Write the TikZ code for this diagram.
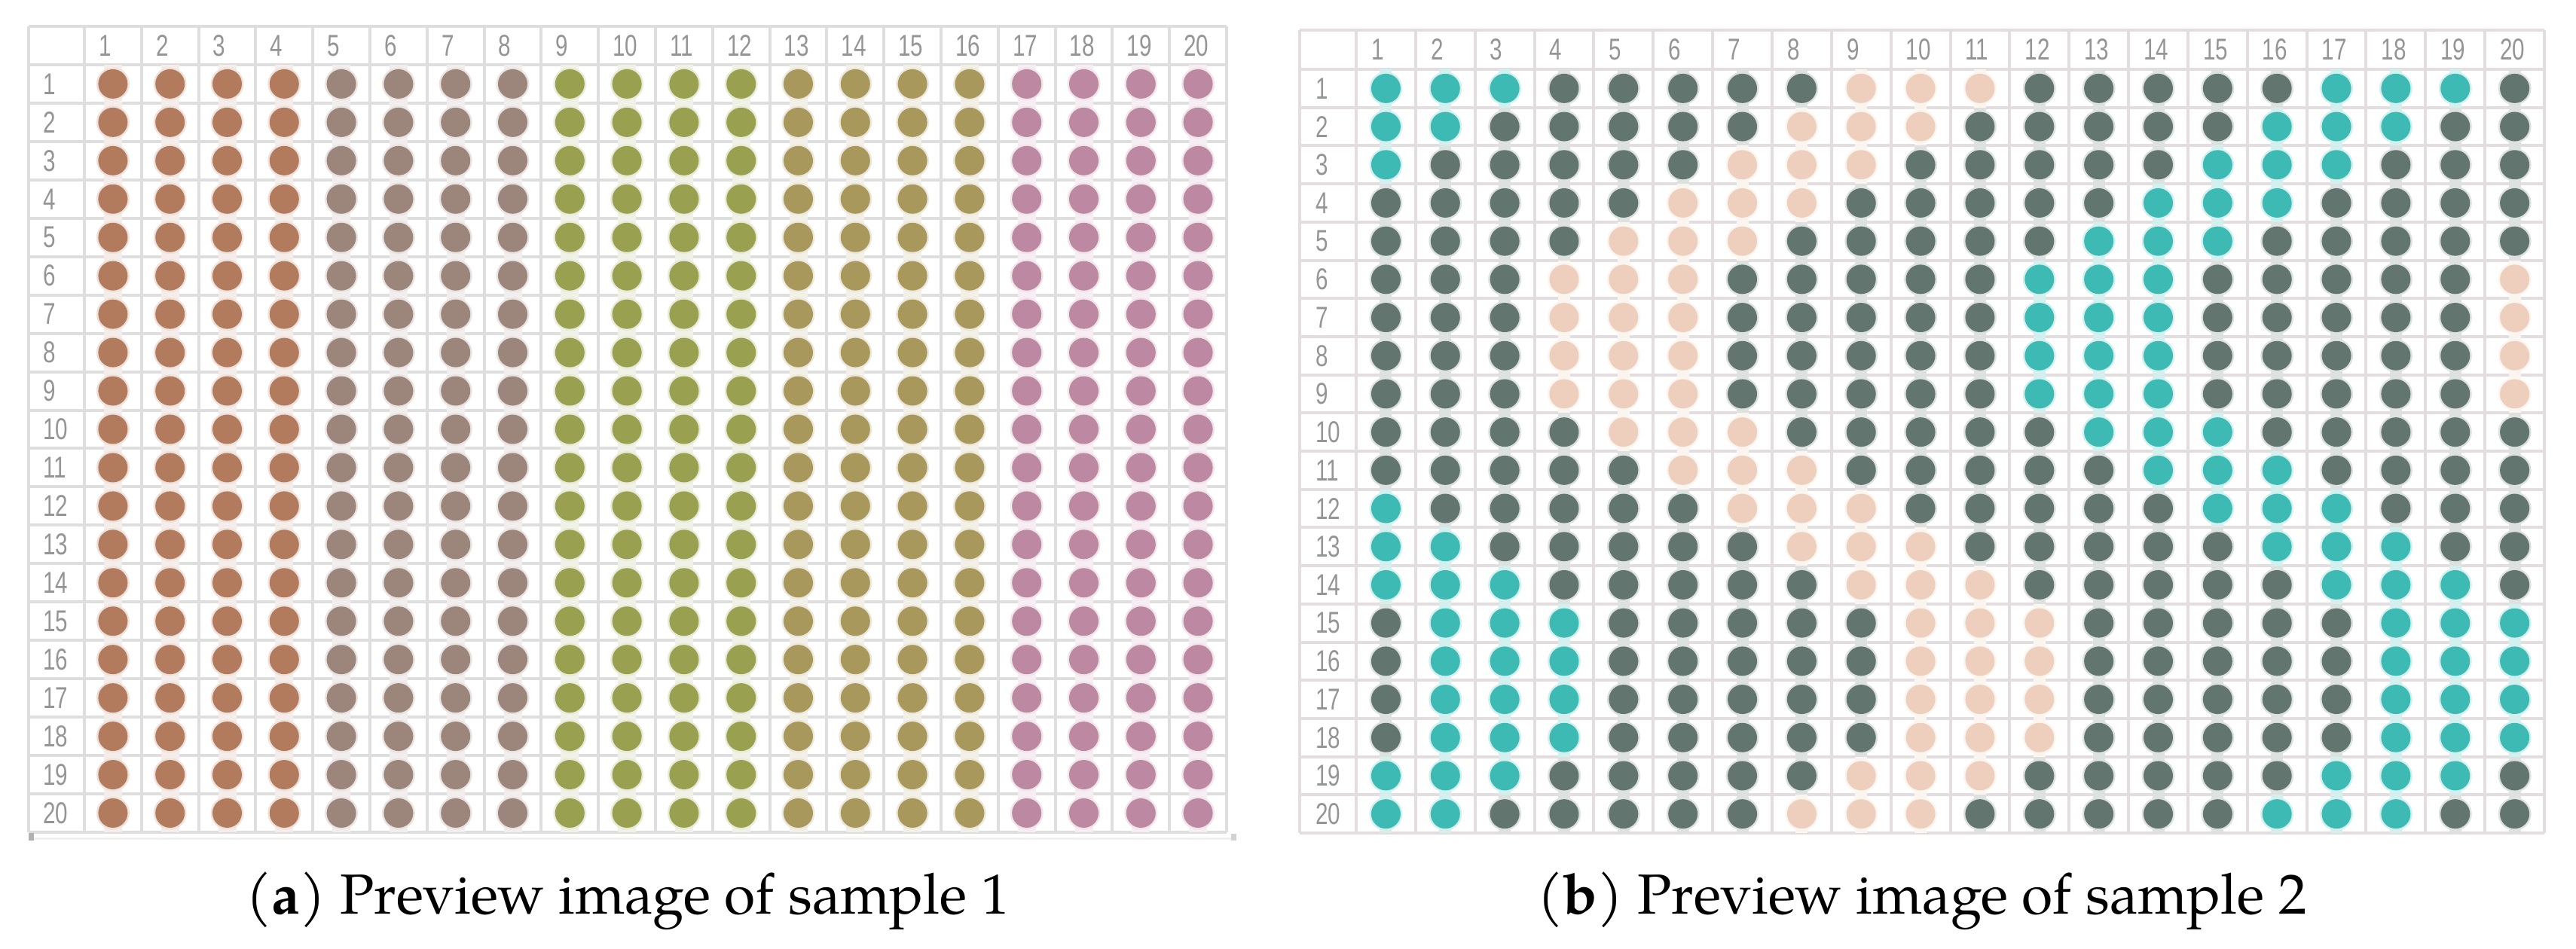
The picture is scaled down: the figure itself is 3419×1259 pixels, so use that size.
\documentclass[tikz,border=0pt]{standalone}
\usepackage{graphicx}
\usepackage{fontspec}
\setmainfont{TeX Gyre Pagella}
\newfontfamily\gridfont{Liberation Sans}
\definecolor{gaA}{HTML}{B37B5E}
\definecolor{gaB}{HTML}{9C857B}
\definecolor{gaC}{HTML}{99A050}
\definecolor{gaD}{HTML}{A8985C}
\definecolor{gaE}{HTML}{BD88A1}
\definecolor{gbT}{HTML}{3DBAB4}
\definecolor{gbD}{HTML}{62756F}
\definecolor{gbP}{HTML}{EECFBD}
\definecolor{lineA}{HTML}{DEDEDE}
\definecolor{lineB}{HTML}{E3DDE0}
\definecolor{hdrgray}{HTML}{959595}
\tikzset{
  hdr/.style={inner sep=0pt, anchor=west, text=hdrgray, font=\gridfont\fontsize{40}{40}\selectfont},
  captext/.style={inner sep=0pt, anchor=base, font=\fontsize{75}{90}\selectfont},
  gridA/.style={draw=lineA, line width=4pt},
  gridB/.style={draw=lineB, line width=4pt},
}
\begin{document}
\begin{tikzpicture}[x=1pt,y=-1pt]
\fill[white] (0,0) rectangle (3419,1259);
\useasboundingbox (0,0) rectangle (3419,1259);

% ---------- grid (a) ----------
\foreach \k in {0,...,21} \draw[gridA] (38,{35+\k*50.95}) -- (1628,{35+\k*50.95});
\draw[gridA] (38,35) -- (38,1105);
\foreach \k in {0,...,20} \draw[gridA] ({112+\k*75.8},35) -- ({112+\k*75.8},1105);
\draw[draw=lineA!45, line width=3pt] (42,1113) -- (1637,1113);
\fill[gray!60] (38,1106) rectangle (45,1116);
\fill[gray!35] (1634,1107) rectangle (1641,1116);

\foreach \c in {1,...,20}{
  \pgfmathtruncatemacro\g{int((\c-1)/4)}
  \ifcase\g \def\dc{gaA}\or\def\dc{gaB}\or\def\dc{gaC}\or\def\dc{gaD}\or\def\dc{gaE}\fi
  \foreach \r in {1,...,20}{
    \pgfmathsetmacro\cx{112+(\c-0.5)*75.8}
    \pgfmathsetmacro\cy{35+(\r+0.5)*50.95}
    \fill[\dc!14] (\cx-12,\cy-25.5) rectangle (\cx+12,\cy+25.5);
    \fill[\dc!22] (\cx,\cy) ellipse [x radius=22, y radius=22];
    \fill[\dc] (\cx,\cy) ellipse [x radius=19.5, y radius=19.5];
  }
}
\foreach \c in {1,...,20}
  \node[hdr] (a-h\c) at ({112+(\c-1)*75.8+19},60.5) {\scalebox{0.74}[1]{\c}};
\foreach \r in {1,...,20}
  \node[hdr] (a-r\r) at (57,{35+(\r+0.5)*50.95}) {\scalebox{0.74}[1]{\r}};

% ---------- grid (b) ----------
\foreach \k in {0,...,20} \draw[gridB] (1725,{92+\k*50.7}) -- (3377,{92+\k*50.7});
\draw[gridB] (1725,40) -- (3377,40);
\draw[gridB] (1725,40) -- (1725,1106);
\foreach \k in {0,...,20} \draw[gridB] ({1800+\k*78.85},40) -- ({1800+\k*78.85},1106);

\foreach \r/\s in {1/0,2/1,3/2,4/3,5/4,6/5,7/5,8/5,9/5,10/4,11/3,12/2,13/1,14/0,15/-1,16/-1,17/-1,18/-1,19/0,20/1}{
  \foreach \c in {1,...,20}{
    \pgfmathtruncatemacro\v{mod(\c+\s+15,16)}
    \ifnum\v<3 \def\dc{gbT}\else\ifnum\v>7 \ifnum\v<11 \def\dc{gbP}\else\def\dc{gbD}\fi\else\def\dc{gbD}\fi\fi
    \pgfmathsetmacro\cx{1800+(\c-0.5)*78.85}
    \pgfmathsetmacro\cy{92+(\r-0.5)*50.7}
    \fill[\dc!22] (\cx-8,\cy-25.35) rectangle (\cx+8,\cy+25.35);
    \fill[\dc!22] (\cx,\cy) ellipse [x radius=22, y radius=22];
    \fill[\dc] (\cx,\cy) ellipse [x radius=19.5, y radius=19.5];
  }
}
\foreach \c in {1,...,20}
  \node[hdr] (b-h\c) at ({1800+(\c-1)*78.85+20},66) {\scalebox{0.74}[1]{\c}};
\foreach \r in {1,...,20}
  \node[hdr] (b-r\r) at (1746,{92+(\r-0.5)*50.7}) {\scalebox{0.74}[1]{\r}};

% ---------- captions ----------
\node[captext] (capa) at (833,1213) {(\textbf{a}) Preview image of sample 1};
\node[captext] (capb) at (2551,1213) {(\textbf{b}) Preview image of sample 2};
\end{tikzpicture}
\end{document}
